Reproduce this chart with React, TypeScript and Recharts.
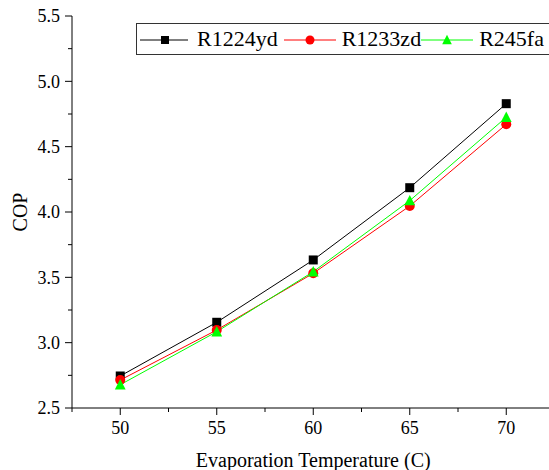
import React from 'react';
import { LineChart, Line, XAxis, YAxis } from 'recharts';

const temps = [50, 55, 60, 65, 70];
const r1224yd = [2.745, 3.156, 3.633, 4.186, 4.829];
const r1233zd = [2.714, 3.097, 3.531, 4.046, 4.671];
const r245fa = [2.678, 3.084, 3.543, 4.087, 4.725];

const xTicks = [47.5, 50, 52.5, 55, 57.5, 60, 62.5, 65, 67.5, 70, 72.5];
const yTicks = [2.5, 2.75, 3, 3.25, 3.5, 3.75, 4, 4.25, 4.5, 4.75, 5, 5.25, 5.5];

const series = [
  { key: 'R1224yd', values: r1224yd, color: '#000000', shape: 'square' },
  { key: 'R1233zd', values: r1233zd, color: '#ff0000', shape: 'circle' },
  { key: 'R245fa', values: r245fa, color: '#00ff00', shape: 'triangle' },
];

const data = temps.map((t, i) => ({
  temp: t,
  R1224yd: r1224yd[i],
  R1233zd: r1233zd[i],
  R245fa: r245fa[i],
}));

const FONT = '"Liberation Serif", "Times New Roman", serif';

const Marker = ({ cx, cy, shape, color, size }) => {
  if (cx == null || cy == null) return null;
  if (shape === 'square') {
    return <rect x={cx - size / 2} y={cy - size / 2} width={size} height={size} fill={color} />;
  }
  if (shape === 'circle') {
    return <circle cx={cx} cy={cy} r={size / 2 + 0.5} fill={color} />;
  }
  const h = size * 1.05;
  const w = size * 1.2;
  return (
    <path
      d={`M${cx},${cy - h / 2 - 1}L${cx + w / 2},${cy + h / 2}L${cx - w / 2},${cy + h / 2}Z`}
      fill={color}
    />
  );
};

const XTick = ({ x, y, payload }) => {
  const major = payload.value % 5 === 0;
  return (
    <g>
      <line x1={x} y1={y} x2={x} y2={y + (major ? 7 : 4)} stroke="#000" strokeWidth={1} />
      {major && (
        <text x={x} y={y + 13} dy="0.71em" textAnchor="middle" fontSize={18} fontFamily={FONT} fill="#000">
          {payload.value}
        </text>
      )}
    </g>
  );
};

const YTick = ({ x, y, payload }) => {
  const major = Math.abs((payload.value * 2) % 1) < 1e-6;
  return (
    <g>
      <line x1={x} y1={y} x2={x - (major ? 7 : 4)} y2={y} stroke="#000" strokeWidth={1} />
      {major && (
        <text x={x - 12} y={y} dy="0.355em" textAnchor="end" fontSize={18} fontFamily={FONT} fill="#000">
          {payload.value.toFixed(1)}
        </text>
      )}
    </g>
  );
};

// box runs off the right edge of the picture, like in the original figure
const LegendBox = () => (
  <div
    style={{
      position: 'absolute',
      left: 136,
      top: 23,
      display: 'flex',
      alignItems: 'center',
      height: 32,
      width: 440,
      border: '1px solid #333',
      background: '#fff',
      paddingLeft: 3,
      fontFamily: FONT,
      fontSize: 22,
      color: '#000',
      whiteSpace: 'nowrap',
      boxSizing: 'border-box',
    }}
  >
    {series.map((s, i) => (
      <React.Fragment key={s.key}>
        <svg width={i === 0 ? 48 : 52} height={30} style={{ display: 'block', flexShrink: 0 }}>
          <line x1={0} y1={16} x2={i === 0 ? 48 : 52} y2={16} stroke={s.color} strokeWidth={1} />
          <Marker cx={i === 0 ? 25 : 26} cy={16} shape={s.shape} color={s.color} size={8} />
        </svg>
        <span style={{ marginLeft: i === 0 ? 9 : 6, marginRight: i === 0 ? 6 : 0, lineHeight: '30px', flexShrink: 0 }}>
          {s.key}
        </span>
      </React.Fragment>
    ))}
  </div>
);

export default function App() {
  return (
    <div
      style={{
        position: 'absolute',
        left: 0,
        top: 0,
        width: 549,
        height: 470,
        overflow: 'hidden',
        background: '#fff',
      }}
    >
      <LineChart width={560} height={470} data={data} margin={{ top: 16, right: 5.5, bottom: 0, left: 0 }}>
        <XAxis
          dataKey="temp"
          type="number"
          domain={[47.5, 72.5]}
          ticks={xTicks}
          interval={0}
          tick={<XTick />}
          tickLine={false}
          tickSize={0}
          tickMargin={0}
          height={62}
          axisLine={{ stroke: '#000', strokeWidth: 1 }}
          label={{
            content: ({ viewBox }) => (
              <text
                x={viewBox.x + viewBox.width / 2}
                y={viewBox.y + viewBox.height - 3}
                textAnchor="middle"
                fontSize={20}
                fontFamily={FONT}
                fill="#000"
              >
                Evaporation Temperature (C)
              </text>
            ),
          }}
        />
        <XAxis
          xAxisId="top"
          dataKey="temp"
          type="number"
          domain={[47.5, 72.5]}
          orientation="top"
          height={0}
          tick={false}
          tickLine={false}
          axisLine={{ stroke: '#000', strokeWidth: 1 }}
        />
        <YAxis
          type="number"
          domain={[2.5, 5.5]}
          ticks={yTicks}
          interval={0}
          width={72}
          tick={<YTick />}
          tickLine={false}
          tickSize={0}
          tickMargin={0}
          axisLine={{ stroke: '#000', strokeWidth: 1 }}
          label={{
            content: ({ viewBox }) => {
              const cy = viewBox.y + viewBox.height / 2;
              return (
                <text
                  x={27}
                  y={cy}
                  transform={`rotate(-90, 27, ${cy})`}
                  textAnchor="middle"
                  fontSize={20}
                  fontFamily={FONT}
                  fill="#000"
                >
                  COP
                </text>
              );
            },
          }}
        />
        {series.map((s) => (
          <Line
            key={s.key}
            dataKey={s.key}
            stroke={s.color}
            strokeWidth={1}
            isAnimationActive={false}
            dot={(p) => <Marker key={`${s.key}-${p.index}`} cx={p.cx} cy={p.cy} shape={s.shape} color={s.color} size={9} />}
            activeDot={false}
          />
        ))}
      </LineChart>
      <LegendBox />
    </div>
  );
}
